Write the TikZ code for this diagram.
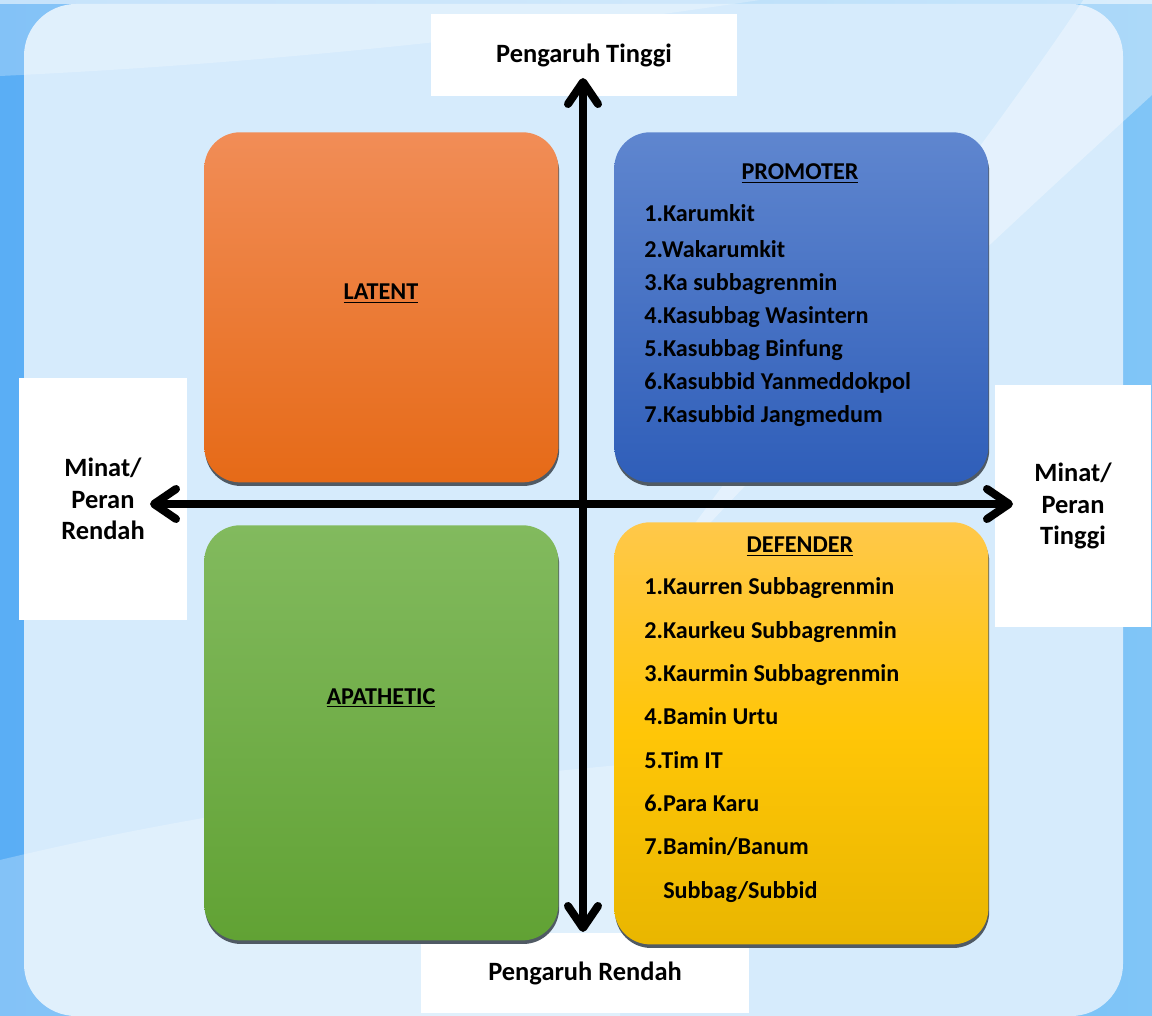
\documentclass[tikz,border=0pt]{standalone}
\usepackage{fontspec}
\setmainfont{Carlito}
\usepackage{tikz}
\usetikzlibrary{arrows.meta,positioning,shadows}
\definecolor{bgleft}{HTML}{5AAEF5}
\definecolor{bgright}{HTML}{80C5F7}
\definecolor{panelblue}{HTML}{D6EBFC}
\definecolor{latenttop}{HTML}{F18D57}
\definecolor{latentbot}{HTML}{E66A17}
\definecolor{promotop}{HTML}{5F86CF}
\definecolor{promobot}{HTML}{2F5EB9}
\definecolor{apatop}{HTML}{82BA5E}
\definecolor{apabot}{HTML}{61A234}
\definecolor{deftop}{HTML}{FFC84A}
\definecolor{defmid}{HTML}{FFC607}
\definecolor{defbot}{HTML}{E9B600}
\definecolor{shadowgray}{HTML}{505A64}
\tikzstyle{quadbox} = [rounded corners=0.9cm, inner sep=0pt, anchor=north west, drop shadow={shadow xshift=0.02cm, shadow yshift=-0.09cm, fill=shadowgray, opacity=1}]
\tikzstyle{lblbox} = [fill=white, inner sep=0pt, align=center, font=\fontsize{18.8}{22.5}\selectfont\bfseries]
\tikzstyle{itemtext} = [anchor=base west, inner sep=0pt, font=\fontsize{17.2}{21}\selectfont\bfseries]
\tikzstyle{titletext} = [anchor=base, inner sep=0pt, font=\fontsize{17.2}{21}\selectfont\bfseries]
\tikzstyle{axisline} = [{Straight Barb[length=0.55cm, width=0.75cm, round]}-{Straight Barb[length=0.55cm, width=0.75cm, round]}, line width=5.7pt, line cap=round, black]

\begin{document}
\begin{tikzpicture}[x=0.025cm, y=-0.025cm]
% background and panel
\fill[left color=bgleft, right color=bgright] (0,0) rectangle (1152,1016);
\fill[white, opacity=0.55] (0,0) rectangle (1152,4);
\fill[panelblue, rounded corners=1.3cm] (24,4) rectangle (1123,1016);
\begin{scope}
\clip (0,0) rectangle (1152,1016);
\fill[white, opacity=0.25] (0,0) -- (0,76) .. controls (300,62) and (560,30) .. (760,0) -- cycle;
\fill[white, opacity=0.35] (1152,-10) -- (1152,95) .. controls (950,280) and (800,420) .. (640,600) .. controls (780,400) and (950,200) .. (1090,-10) -- cycle;
\fill[white, opacity=0.25] (0,860) .. controls (200,812) and (400,785) .. (620,765) -- (620,1016) -- (0,1016) -- cycle;
\end{scope}

% axis labels
\node[lblbox, minimum width=7.625cm, minimum height=2.05cm] (lblTop) at (584,55) {Pengaruh Tinggi};
\node[lblbox, minimum width=8.2cm, minimum height=2cm] (lblBottom) at (585,973) {Pengaruh Rendah};
\node[lblbox, minimum width=4.2cm, minimum height=6.025cm] (lblLeft) at (103,499) {Minat/\\Peran\\Rendah};
\node[lblbox, minimum width=3.9cm, minimum height=6.05cm] (lblRight) at (1073,506) {Minat/\\Peran\\Tinggi};

% quadrants
\node[quadbox, top color=latenttop, bottom color=latentbot, minimum width=8.85cm, minimum height=8.75cm] (latent) at (204,132) {};
\node[quadbox, top color=promotop, bottom color=promobot, minimum width=9.35cm, minimum height=8.75cm] (promoter) at (614,132) {};
\node[quadbox, top color=apatop, bottom color=apabot, minimum width=8.85cm, minimum height=10.375cm] (apathetic) at (204,525) {};
\node[quadbox, top color=deftop, bottom color=defbot, middle color=defmid, minimum width=9.35cm, minimum height=10.55cm] (defender) at (614,522) {};

% axes
\coordinate (tipN) at (583,78);
\coordinate (tipS) at (583,932);
\coordinate (tipW) at (150,504);
\coordinate (tipE) at (1013,504);
\draw[axisline] (tipS) -- (tipN);
\draw[axisline] (tipW) -- (tipE);

% quadrant texts
\node[titletext] (latentTitle) at (381,300) {\underline{LATENT}};
\node[titletext] (apatheticTitle) at (381,704) {\underline{APATHETIC}};
\node[titletext] (promoterTitle) at (800,180) {\underline{PROMOTER}};
\node[titletext] (defenderTitle) at (800,553) {\underline{DEFENDER}};
\foreach \t/\y in {1.Karumkit/222, 2.Wakarumkit/258, 3.Ka subbagrenmin/291, 4.Kasubbag Wasintern/324, 5.Kasubbag Binfung/357, 6.Kasubbid Yanmeddokpol/390, 7.Kasubbid Jangmedum/423}
  \node[itemtext] at (644,\y) {\t};
\foreach [count=\i from 0] \t in {1.Kaurren Subbagrenmin, 2.Kaurkeu Subbagrenmin, 3.Kaurmin Subbagrenmin, 4.Bamin Urtu, 5.Tim IT, 6.Para Karu, 7.Bamin/Banum}
  \node[itemtext] at (644,{595+43.25*\i}) {\t};
\node[itemtext] at (663,898) {Subbag/Subbid};
\end{tikzpicture}
\end{document}
